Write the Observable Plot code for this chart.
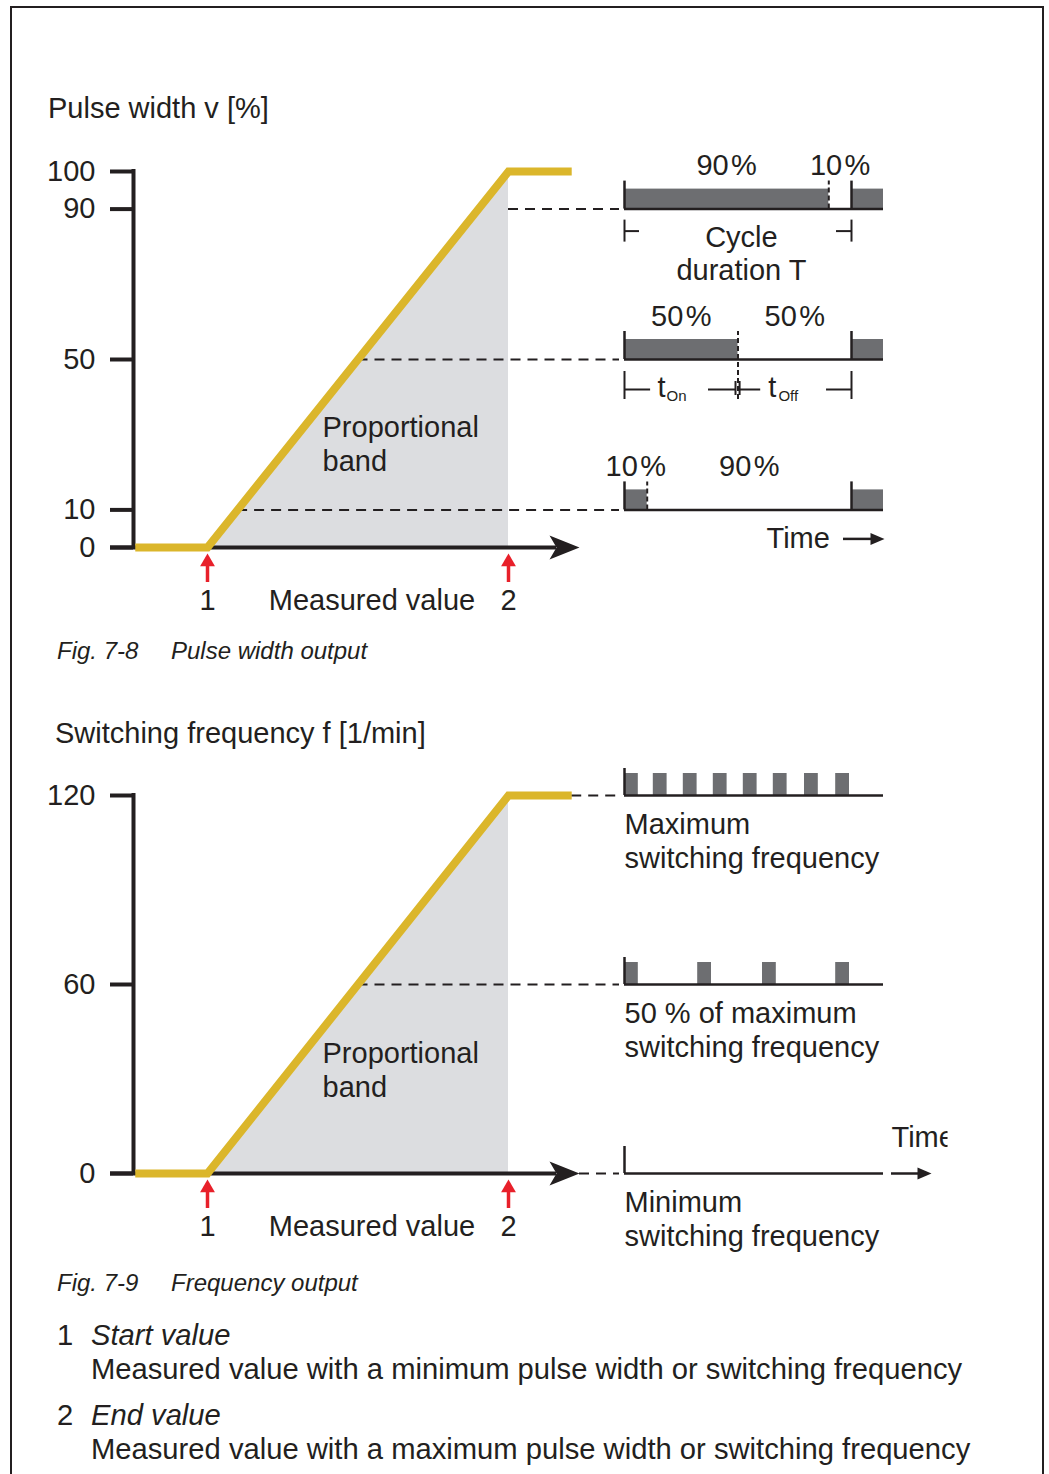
<!DOCTYPE html>
<html><head><meta charset="utf-8">
<script src="https://cdn.jsdelivr.net/npm/d3@7"></script>
<script src="https://cdn.jsdelivr.net/npm/@observablehq/plot@0.6"></script>
<style>
body{margin:0;background:#fff;}
#page{position:relative;width:1049px;height:1474px;overflow:hidden;font-family:"Liberation Sans",Arial,Helvetica,sans-serif;color:#231f20;background:#fff;}
.frame{position:absolute;left:10px;top:6px;width:1034px;height:1520px;border:2px solid #231f20;box-sizing:border-box;}
.t{position:absolute;white-space:nowrap;}
.panel{position:absolute;left:0;}
</style></head><body><div id="page"><div class="frame"></div></div>
<script>
// ---------------- data ----------------
const pulseWidthTicks = [0, 10, 50, 90, 100];
const pulseWidthRows = [90, 50, 10];            // on-share (%) of each example cycle
const frequencyTicks = [0, 60, 120];
const frequencyRows = [120, 60, 0];             // 1/min
const frequencyRowLabels = ["Maximum\nswitching frequency", "50 % of maximum\nswitching frequency", "Minimum\nswitching frequency"];
const pulseStartsMax = [0, 0.48, 0.98, 1.48, 1.98, 2.48, 3.0, 3.52];  // s
const pulseStartsHalf = [0, 1.22, 2.3, 3.52];                          // s
const pulseStartsMin = [];
const pulseLength = 0.23;                                              // s
const rampMeasured = [0.76, 1, 2, 2.21];
const rampPulseWidth = [0, 0, 100, 100];
const rampFrequency = [0, 0, 120, 120];
const valueMarkers = [1, 2];
const titles = ["Pulse width v [%]", "Switching frequency f [1/min]"];
const captions = [["Fig. 7-8", "Pulse width output"], ["Fig. 7-9", "Frequency output"]];
const legendItems = [
  ["1", "Start value", "Measured value with a minimum pulse width or switching frequency"],
  ["2", "End value", "Measured value with a maximum pulse width or switching frequency"]
];

// ---------------- layout ----------------
const W = 1049, H = 480;
const FS = 29;
const FONT = '"Liberation Sans", Arial, Helvetica, sans-serif';
const INK = "#231f20", YELLOW = "#dbb62b", BAND = "#dcdde0", PULSE = "#6d6e71", RED = "#e8202a";
const X1PX = 207, X2PX = 508;
const px = p => 1 + (p - X1PX) / (X2PX - X1PX);
const AXIS_X = px(133), TICK_X = px(110), LABEL_X = px(95);
const ARROW_BASE = px(549), ARROW_TIP = px(579), ARROW_NOTCH = px(556);
const LEAD_END = px(619);
const ROW_X0 = 624, ROW_END = px(883);
const CYCLE_PX = 227, SECOND_PX = 60;
const tCycle = t => px(ROW_X0 + t * CYCLE_PX);
const tSec = s => px(ROW_X0 + s * SECOND_PX);

const page = document.getElementById("page");
function addText(str, left, cy, size, italic) {
  const d = document.createElement("div");
  d.className = "t";
  d.textContent = str;
  d.style.left = left + "px";
  d.style.top = (cy - size * 0.6) + "px";
  d.style.fontSize = size + "px";
  d.style.lineHeight = (size * 1.2) + "px";
  if (italic) d.style.fontStyle = "italic";
  page.appendChild(d);
}

function chart({top, y0, yTop, yMax, ticks, rampY, leaders, extra}) {
  const k = (y0 - yTop) / yMax;
  const up = (v, p) => v + p / k;
  const rampPts = rampMeasured.map((x, i) => ({x, y: rampY[i]}));
  const band = rampPts.filter(d => d.x >= 1 && d.x <= 2);
  const head = [
    {x: ARROW_TIP, y: 0}, {x: ARROW_BASE, y: up(0, 12)}, {x: ARROW_NOTCH, y: 0},
    {x: ARROW_BASE, y: up(0, -12)}, {x: ARROW_TIP, y: 0}
  ];
  const marks = [
    Plot.areaY(band, {x: "x", y: "y", fill: BAND}),
    Plot.ruleY(leaders, {y: "y", x1: "from", x2: LEAD_END, stroke: INK, strokeWidth: 2, strokeDasharray: "10,7"}),
    Plot.ruleY([0], {y: d => d, x1: TICK_X, x2: ARROW_NOTCH, stroke: INK, strokeWidth: 4}),
    Plot.line(head, {x: "x", y: "y", fill: INK, stroke: "none"}),
    Plot.ruleX([AXIS_X], {x: d => d, y1: up(0, -2), y2: up(yMax, 2), stroke: INK, strokeWidth: 4}),
    Plot.ruleY(ticks, {y: d => d, x1: TICK_X, x2: AXIS_X, stroke: INK, strokeWidth: 4}),
    Plot.text(ticks, {x: LABEL_X, y: d => d, text: d => String(d), textAnchor: "end", fontSize: FS}),
    Plot.line(rampPts, {x: "x", y: "y", stroke: YELLOW, strokeWidth: 8, strokeLinejoin: "miter", strokeMiterlimit: 4, strokeLinecap: "butt"}),
    Plot.ruleX(valueMarkers, {x: d => d, y1: up(0, -35), y2: up(0, -18), stroke: RED, strokeWidth: 3.5}),
    Plot.dot(valueMarkers, {x: d => d, y: up(0, -14.5), symbol: "triangle", r: 5.5, fill: RED, stroke: "none"}),
    Plot.text(valueMarkers, {x: d => d, y: up(0, -53), text: d => String(d), fontSize: FS}),
    Plot.text(["Measured value"], {x: px(371.5), y: up(0, -53), text: d => d, fontSize: FS}),
    Plot.text(["Proportional\nband"], {x: px(322), y: up(0, 104), text: d => d, textAnchor: "start", lineHeight: 1.17, fontSize: FS}),
    ...extra(up)
  ];
  const svg = Plot.plot({
    width: W, height: H,
    x: {domain: [1, 2], range: [X1PX, X2PX], axis: null},
    y: {domain: [0, yMax], range: [y0 - top, yTop - top], axis: null},
    style: {fontFamily: FONT, color: INK, background: "transparent", overflow: "visible"},
    marks
  });
  svg.classList.add("panel");
  svg.style.top = top + "px";
  page.appendChild(svg);
  return svg;
}

// ---------- Figure 7-8: pulse width ----------
const pwRows = pulseWidthRows.map(p => ({level: p, on: p / 100}));
chart({
  top: 140, y0: 547, yTop: 171, yMax: 100,
  ticks: pulseWidthTicks, rampY: rampPulseWidth,
  leaders: pulseWidthRows.map(p => ({y: p, from: p >= 90 ? 2 : 1 + p / 100})),
  extra: up => {
    const labels = pwRows.flatMap(r => [
      {x: tCycle(r.on / 2), y: up(r.level, 43), s: `${r.level}\u200A%`},
      {x: tCycle((1 + r.on) / 2), y: up(r.level, 43), s: `${100 - r.level}\u200A%`}
    ]);
    const edges = pwRows.flatMap(r => [{x: tCycle(0), l: r.level}, {x: tCycle(1), l: r.level}]);
    const r0 = pwRows[0], r1 = pwRows[1], r2 = pwRows[2];
    const cycBar = [tCycle(0), tCycle(1)];
    const cycH = [[0, 0.066], [0.934, 1]];
    const onOffH = [[0, 0.115], [0.37, 0.489], [0.507, 0.6], [0.89, 1]];
    return [
      Plot.rect(pwRows, {x1: tCycle(0), x2: d => tCycle(d.on), y1: "level", y2: d => up(d.level, 20), fill: PULSE}),
      Plot.rect(pwRows, {x1: tCycle(1), x2: ROW_END, y1: "level", y2: d => up(d.level, 20), fill: PULSE}),
      Plot.ruleY(pwRows, {y: "level", x1: tCycle(0), x2: ROW_END, stroke: INK, strokeWidth: 2.5}),
      Plot.ruleX(edges, {x: "x", y1: "l", y2: d => up(d.l, 28), stroke: INK, strokeWidth: 2.5}),
      Plot.ruleX(pwRows, {x: d => tCycle(d.on), y1: d => d.level === r1.level ? up(d.level, -40) : d.level, y2: d => up(d.level, 28), stroke: INK, strokeWidth: 2, strokeDasharray: "5,3"}),
      Plot.text(labels, {x: "x", y: "y", text: "s", fontSize: FS}),
      // cycle duration bracket
      Plot.ruleX(cycBar, {x: d => d, y1: up(r0.level, -11), y2: up(r0.level, -33), stroke: INK, strokeWidth: 2}),
      Plot.ruleY(cycH, {y: up(r0.level, -22), x1: d => tCycle(d[0]), x2: d => tCycle(d[1]), stroke: INK, strokeWidth: 2}),
      Plot.text(["Cycle\nduration T"], {x: tCycle(0.515), y: up(r0.level, -44), text: d => d, lineHeight: 1.14, fontSize: FS}),
      // on / off bracket
      Plot.ruleX(cycBar, {x: d => d, y1: up(r1.level, -12), y2: up(r1.level, -40), stroke: INK, strokeWidth: 2}),
      Plot.ruleY(onOffH, {y: up(r1.level, -30), x1: d => tCycle(d[0]), x2: d => tCycle(d[1]), stroke: INK, strokeWidth: 2}),
      Plot.ruleX([0.489, 0.507], {x: d => tCycle(d), y1: up(r1.level, -22), y2: up(r1.level, -36), stroke: INK, strokeWidth: 2}),
      Plot.text([{t: 0.145, s: "t"}, {t: 0.633, s: "t"}], {x: d => tCycle(d.t), y: up(r1.level, -28), text: "s", textAnchor: "start", fontSize: FS}),
      Plot.text([{t: 0.185, s: "On"}, {t: 0.678, s: "Off"}], {x: d => tCycle(d.t), y: up(r1.level, -37), text: "s", textAnchor: "start", fontSize: 15}),
      // time arrow
      Plot.text(["Time"], {x: px(766), y: up(r2.level, -29), text: d => d, textAnchor: "start", fontSize: FS}),
      Plot.ruleY([up(r2.level, -29)], {y: d => d, x1: px(843), x2: px(873), stroke: INK, strokeWidth: 2.5}),
      Plot.line([{x: px(884), y: 0}, {x: px(870), y: 6}, {x: px(870), y: -6}], {x: "x", y: d => up(r2.level, -29 + d.y), fill: INK, stroke: "none"})
    ];
  }
});

// ---------- Figure 7-9: frequency ----------
const fRows = frequencyRows.map((f, i) => ({level: f, starts: [pulseStartsMax, pulseStartsHalf, pulseStartsMin][i], label: frequencyRowLabels[i]}));
const svg2 = chart({
  top: 760, y0: 1173, yTop: 795, yMax: 120,
  ticks: frequencyTicks, rampY: rampFrequency,
  leaders: frequencyRows.map(f => ({y: f, from: f === 120 ? rampMeasured[3] : f === 0 ? ARROW_TIP : 1 + f / 120})),
  extra: up => {
    const pulses = fRows.flatMap(r => r.starts.map(s => ({s, level: r.level})));
    return [
      Plot.rect(pulses, {x1: d => tSec(d.s), x2: d => tSec(d.s + pulseLength), y1: "level", y2: d => up(d.level, 22), fill: PULSE}),
      Plot.ruleY(fRows, {y: "level", x1: tSec(0), x2: ROW_END, stroke: INK, strokeWidth: 2.5}),
      Plot.ruleX(fRows, {x: tSec(0), y1: "level", y2: d => up(d.level, 27), stroke: INK, strokeWidth: 2.5}),
      Plot.text(fRows, {x: tSec(0), y: d => up(d.level, -45), text: "label", textAnchor: "start", lineHeight: 1.17, fontSize: FS}),
      Plot.text(["Time"], {x: px(891), y: up(0, 36), text: d => d, textAnchor: "start", fontSize: FS, ariaDescription: "time-label"}),
      Plot.ruleY([0], {y: d => d, x1: px(891), x2: px(920), stroke: INK, strokeWidth: 2.5}),
      Plot.line([{x: px(931), y: 0}, {x: px(917), y: 6}, {x: px(917), y: -6}], {x: "x", y: d => up(0, d.y), fill: INK, stroke: "none"})
    ];
  }
});
// the reference crops the word "Time" at the right
(function () {
  const ns = "http://www.w3.org/2000/svg";
  const defs = document.createElementNS(ns, "defs");
  const cp = document.createElementNS(ns, "clipPath");
  cp.setAttribute("id", "timeclip");
  const r = document.createElementNS(ns, "rect");
  r.setAttribute("x", 0); r.setAttribute("y", 0); r.setAttribute("width", 947); r.setAttribute("height", H);
  cp.appendChild(r); defs.appendChild(cp); svg2.prepend(defs);
  const g = svg2.querySelector('[aria-description="time-label"]');
  if (g) g.setAttribute("clip-path", "url(#timeclip)");
})();

// ---------- HTML texts ----------
addText(titles[0], 48, 108, FS);
addText(titles[1], 55, 733, FS);
addText(captions[0][0], 57, 651, 24, true);
addText(captions[0][1], 171, 651, 24, true);
addText(captions[1][0], 57, 1283, 24, true);
addText(captions[1][1], 171, 1283, 24, true);
legendItems.forEach((it, i) => {
  const cy = 1336 + i * 80;
  addText(it[0], 57, cy, 29.2);
  addText(it[1], 91, cy, 29.2, true);
  addText(it[2], 91, cy + 34, 29.2);
});
</script></body></html>
